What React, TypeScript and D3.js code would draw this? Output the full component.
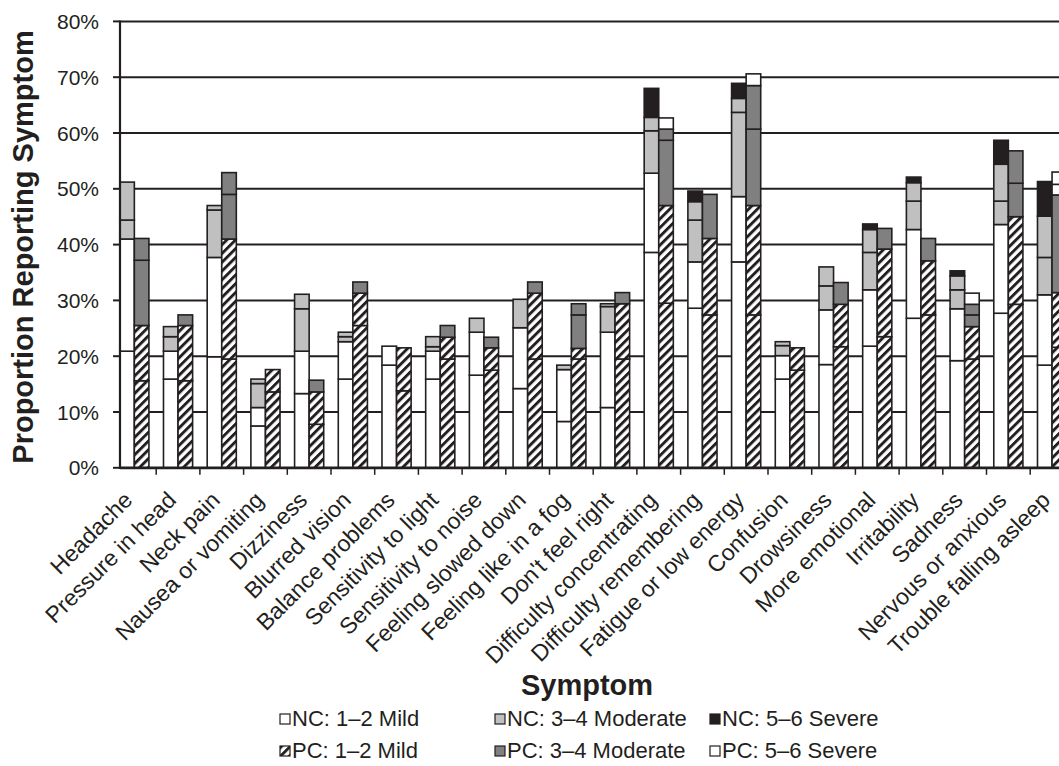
import React from 'react'
import * as d3 from 'd3'

// symptoms, in the order shown on the x axis
const symptoms = [
  'Headache', 'Pressure in head', 'Neck pain', 'Nausea or vomiting', 'Dizziness',
  'Blurred vision', 'Balance problems', 'Sensitivity to light', 'Sensitivity to noise',
  'Feeling slowed down', 'Feeling like in a fog', "Don't feel right",
  'Difficulty concentrating', 'Difficulty remembering', 'Fatigue or low energy',
  'Confusion', 'Drowsiness', 'More emotional', 'Irritability', 'Sadness',
  'Nervous or anxious', 'Trouble falling asleep',
]

// NC group, percent reporting each score (1..6)
const ncScore1 = [20.9, 15.9, 19.9, 7.5, 13.3, 15.9, 18.4, 15.9, 16.6, 14.2, 8.3, 10.8, 38.6, 28.6, 36.9, 15.9, 18.5, 21.8, 26.8, 19.2, 27.7, 18.4]
const ncScore2 = [20.1, 5.0, 17.8, 3.3, 7.6, 6.7, 3.4, 5.0, 7.7, 10.9, 9.3, 13.5, 14.2, 8.3, 11.7, 4.2, 9.8, 10.1, 15.9, 9.3, 15.9, 12.6]
const ncScore3 = [3.4, 2.6, 8.5, 4.3, 7.6, 0.9, 0, 0.8, 2.5, 5.1, 0.8, 4.6, 7.6, 7.5, 15.1, 1.8, 4.3, 6.7, 5.1, 3.4, 4.2, 6.7]
const ncScore4 = [6.8, 1.8, 0.8, 0.8, 2.6, 0.8, 0, 1.8, 0, 0, 0, 0.5, 2.4, 3.3, 2.5, 0.7, 3.4, 4.1, 3.3, 2.5, 6.6, 7.4]
const ncScore5 = [0, 0, 0, 0, 0, 0, 0, 0, 0, 0, 0, 0, 5.2, 1.9, 2.7, 0, 0, 1.0, 1.0, 0.9, 4.3, 6.2]
const ncScore6 = [0, 0, 0, 0, 0, 0, 0, 0, 0, 0, 0, 0, 0, 0, 0, 0, 0, 0, 0, 0, 0, 0]

// PC group
const pcScore1 = [15.6, 15.6, 19.5, 13.6, 7.8, 25.5, 13.8, 19.5, 17.5, 19.5, 19.5, 19.5, 29.5, 27.4, 27.4, 17.5, 21.7, 23.5, 27.4, 19.5, 29.3, 21.6]
const pcScore2 = [9.9, 9.9, 21.5, 4.0, 5.8, 5.8, 7.7, 3.9, 4.0, 11.8, 1.9, 9.9, 17.5, 13.7, 19.6, 4.0, 7.6, 15.7, 9.7, 5.8, 15.7, 9.8]
const pcScore3 = [11.7, 1.9, 8.0, 0, 2.1, 2.0, 0, 2.1, 1.9, 2.0, 6.0, 2.0, 11.7, 7.9, 13.7, 0, 3.9, 3.7, 4.0, 2.1, 6.0, 17.5]
const pcScore4 = [3.9, 0, 3.9, 0, 0, 0, 0, 0, 0, 0, 2.0, 0, 2.0, 0, 7.8, 0, 0, 0, 0, 1.9, 5.8, 0]
const pcScore5 = [0, 0, 0, 0, 0, 0, 0, 0, 0, 0, 0, 0, 2.0, 0, 2.1, 0, 0, 0, 0, 2.0, 0, 1.9]
const pcScore6 = [0, 0, 0, 0, 0, 0, 0, 0, 0, 0, 0, 0, 0, 0, 0, 0, 0, 0, 0, 0, 0, 2.2]

const yTicks = [0, 0.1, 0.2, 0.3, 0.4, 0.5, 0.6, 0.7, 0.8]

const legendItems = [
  { label: 'NC: 1–2 Mild', key: 'nc1' },
  { label: 'NC: 3–4 Moderate', key: 'nc3' },
  { label: 'NC: 5–6 Severe', key: 'nc5' },
  { label: 'PC: 1–2 Mild', key: 'pc1' },
  { label: 'PC: 3–4 Moderate', key: 'pc3' },
  { label: 'PC: 5–6 Severe', key: 'pc5' },
]

const W = 1059, H = 766
const ink = '#231f20'
const font = '"Liberation Sans", Arial, sans-serif'
const keys = ['s1', 's2', 's3', 's4', 's5', 's6']

const fills: Record<string, string> = {
  nc1: '#ffffff', nc2: '#ffffff', nc3: '#c0c0c0', nc4: '#c0c0c0', nc5: ink, nc6: ink,
  pc1: 'url(#hatch)', pc2: 'url(#hatch)', pc3: '#808080', pc4: '#808080', pc5: '#ffffff', pc6: '#ffffff',
}

function rows(cols: number[][]) {
  return symptoms.map((s, i) => {
    const r: any = { symptom: s }
    keys.forEach((k, j) => (r[k] = cols[j][i] / 100))
    return r
  })
}

export default function App() {
  const left = 120
  const x = d3.scaleBand().domain(symptoms).range([112.5, 112.5 + 43.7 * symptoms.length]).padding(0)
  const inner = d3.scaleBand().domain(['nc', 'pc']).range([0, x.bandwidth()]).paddingInner(0).paddingOuter(0.5)
  const y = d3.scaleLinear().domain([0, 0.8]).range([467.8, 21.4])

  const stack = d3.stack<any>().keys(keys)
  const groups = [
    { id: 'nc', series: stack(rows([ncScore1, ncScore2, ncScore3, ncScore4, ncScore5, ncScore6])) },
    { id: 'pc', series: stack(rows([pcScore1, pcScore2, pcScore3, pcScore4, pcScore5, pcScore6])) },
  ]

  return (
    <svg width={W} height={H} style={{ position: 'absolute', left: 0, top: 0, background: '#fff' }} fontFamily={font}>
      <defs>
        <pattern id="hatch" width={6.2} height={6.2} patternUnits="userSpaceOnUse" patternTransform="rotate(45)">
          <rect width={6.2} height={6.2} fill="#fff" />
          <rect width={2.9} height={6.2} fill={ink} />
        </pattern>
      </defs>

      {/* gridlines behind bars */}
      {yTicks.slice(1).map(t => (
        <line key={t} x1={left} x2={W} y1={y(t)} y2={y(t)} stroke={ink} strokeWidth={2} />
      ))}

      {groups.map(g =>
        g.series.map(s =>
          s.map((d, i) => {
            const h = y(d[0]) - y(d[1])
            if (h <= 0.01) return null
            return (
              <rect
                key={g.id + s.key + i}
                x={(x(symptoms[i]) as number) + (inner(g.id) as number)}
                y={y(d[1])}
                width={inner.bandwidth()}
                height={h}
                fill={fills[g.id + s.key.slice(1)]}
                stroke={ink}
                strokeWidth={1.6}
              />
            )
          })
        )
      )}

      {/* axes */}
      <line x1={left} x2={left} y1={y(0.8) - 1} y2={y(0) + 1} stroke={ink} strokeWidth={2.2} />
      <line x1={left} x2={W} y1={y(0)} y2={y(0)} stroke={ink} strokeWidth={2.8} />
      {yTicks.map(t => (
        <g key={t}>
          <line x1={113} x2={left} y1={y(t)} y2={y(t)} stroke={ink} strokeWidth={2} />
          <text x={99} y={y(t)} dy="0.36em" textAnchor="end" fontSize={21} fill={ink}>
            {d3.format('.0%')(t)}
          </text>
        </g>
      ))}
      {symptoms.slice(1).map(s => (
        <line key={s} x1={x(s)} x2={x(s)} y1={y(0)} y2={y(0) + 7} stroke={ink} strokeWidth={1.5} />
      ))}
      {symptoms.map(s => {
        const cx = (x(s) as number) + x.bandwidth() / 2
        return (
          <text key={s} transform={`translate(${cx - 12},${490}) rotate(-45)`} dy="0.71em" textAnchor="end" fontSize={23} fill={ink}>
            {s}
          </text>
        )
      })}

      <text transform="translate(33,247) rotate(-90)" textAnchor="middle" fontSize={29} fontWeight="bold" fill={ink}>
        Proportion Reporting Symptom
      </text>
      <text x={587} y={695} textAnchor="middle" fontSize={29} fontWeight="bold" fill={ink}>
        Symptom
      </text>

      {legendItems.map((it, i) => {
        const lx = 280 + (i % 3) * 215
        const ly = i < 3 ? 726 : 758
        return (
          <g key={it.key}>
            <rect x={lx} y={ly - 12} width={10} height={10} fill={fills[it.key]} stroke={ink} strokeWidth={1.2} />
            <text x={lx + 12} y={ly} fontSize={22} fill={ink}>{it.label}</text>
          </g>
        )
      })}
    </svg>
  )
}
